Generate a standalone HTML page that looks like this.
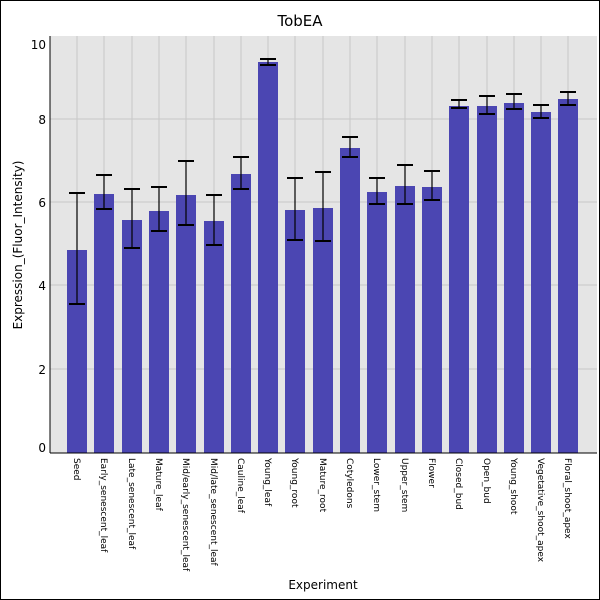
<!DOCTYPE html><html><head><style>body{margin:0}svg{display:block}</style></head><body>
<svg width="600" height="600" xmlns="http://www.w3.org/2000/svg" font-family="DejaVu Sans, Liberation Sans, sans-serif">
<rect x="0.5" y="0.5" width="599" height="599" fill="#fff" stroke="#000"/>
<text x="300" y="26" font-size="15" text-anchor="middle">TobEA</text>
<rect x="50" y="36" width="547" height="417" fill="#e5e5e5"/>
<g stroke="#c8c8c8" stroke-width="1">
<line x1="50" x2="597" y1="369" y2="369"/><line x1="50" x2="597" y1="285" y2="285"/><line x1="50" x2="597" y1="202" y2="202"/><line x1="50" x2="597" y1="119" y2="119"/>
<path d="M77 36V453M104 36V453M132 36V453M159 36V453M186 36V453M214 36V453M241 36V453M268 36V453M295 36V453M323 36V453M350 36V453M377 36V453M405 36V453M432 36V453M459 36V453M487 36V453M514 36V453M541 36V453M568 36V453"/>
</g>
<g fill="#4b46b2">
<rect x="67" y="250" width="20" height="203"/>
<rect x="94" y="194" width="20" height="259"/>
<rect x="122" y="220" width="20" height="233"/>
<rect x="149" y="211" width="20" height="242"/>
<rect x="176" y="195" width="20" height="258"/>
<rect x="204" y="221" width="20" height="232"/>
<rect x="231" y="174" width="20" height="279"/>
<rect x="258" y="62" width="20" height="391"/>
<rect x="285" y="210" width="20" height="243"/>
<rect x="313" y="208" width="20" height="245"/>
<rect x="340" y="148" width="20" height="305"/>
<rect x="367" y="192" width="20" height="261"/>
<rect x="395" y="186" width="20" height="267"/>
<rect x="422" y="187" width="20" height="266"/>
<rect x="449" y="106" width="20" height="347"/>
<rect x="477" y="106" width="20" height="347"/>
<rect x="504" y="103" width="20" height="350"/>
<rect x="531" y="112" width="20" height="341"/>
<rect x="558" y="99" width="20" height="354"/>
</g>
<path stroke="#000" stroke-width="1.2" fill="none" d="
M77 193V304M104 175V209M132 189V248M159 187V231M186 161V225M214 195V245M241 157V189M268 59V65M295 178V240M323 172V241M350 137V157M377 178V204M405 165V204M432 171V200M459 100V108M487 96V114M514 94V109M541 105V118M568 92V105"/>
<path stroke="#000" stroke-width="2" fill="none" d="
M69 193h16M69 304h16M96 175h16M96 209h16M124 189h16M124 248h16M151 187h16M151 231h16M178 161h16M178 225h16M206 195h16M206 245h16M233 157h16M233 189h16M260 59h16M260 65h16M287 178h16M287 240h16M315 172h16M315 241h16M342 137h16M342 157h16M369 178h16M369 204h16M397 165h16M397 204h16M424 171h16M424 200h16M451 100h16M451 108h16M479 96h16M479 114h16M506 94h16M506 109h16M533 105h16M533 118h16M560 92h16M560 105h16"/>
<line x1="50" y1="36" x2="50" y2="453" stroke="#000"/>
<line x1="50" y1="453" x2="597" y2="453" stroke="#000"/>
<g font-size="12" text-anchor="end">
<text x="46" y="49">10</text><text x="46" y="124">8</text><text x="46" y="207">6</text><text x="46" y="290">4</text><text x="46" y="374">2</text><text x="46" y="452">0</text>
</g>
<text transform="translate(22,245) rotate(-90)" font-size="12" text-anchor="middle">Expression_(Fluor_Intensity)</text>
<text x="323" y="589" font-size="12" text-anchor="middle">Experiment</text>
<g font-size="9">
<text transform="translate(74,458) rotate(90)">Seed</text>
<text transform="translate(101,458) rotate(90)">Early_senescent_leaf</text>
<text transform="translate(129,458) rotate(90)">Late_senescent_leaf</text>
<text transform="translate(156,458) rotate(90)">Mature_leaf</text>
<text transform="translate(183,458) rotate(90)">Mid/early_senescent_leaf</text>
<text transform="translate(211,458) rotate(90)">Mid/late_senescent_leaf</text>
<text transform="translate(238,458) rotate(90)">Cauline_leaf</text>
<text transform="translate(265,458) rotate(90)">Young_leaf</text>
<text transform="translate(292,458) rotate(90)">Young_root</text>
<text transform="translate(320,458) rotate(90)">Mature_root</text>
<text transform="translate(347,458) rotate(90)">Cotyledons</text>
<text transform="translate(374,458) rotate(90)">Lower_stem</text>
<text transform="translate(402,458) rotate(90)">Upper_stem</text>
<text transform="translate(429,458) rotate(90)">Flower</text>
<text transform="translate(456,458) rotate(90)">Closed_bud</text>
<text transform="translate(484,458) rotate(90)">Open_bud</text>
<text transform="translate(511,458) rotate(90)">Young_shoot</text>
<text transform="translate(538,458) rotate(90)">Vegetative_shoot_apex</text>
<text transform="translate(565,458) rotate(90)">Floral_shoot_apex</text>
</g>
</svg></body></html>
